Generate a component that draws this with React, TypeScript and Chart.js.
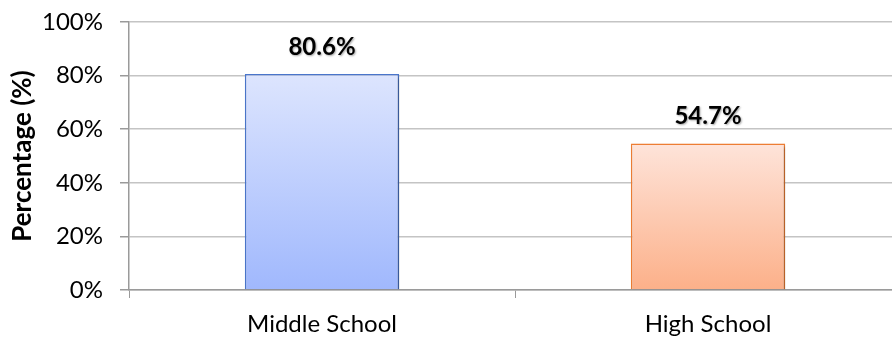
import React, { useEffect, useRef } from "react";
import { Chart, registerables } from "chart.js";

Chart.register(...registerables);

const categories = ["Middle School", "High School"];
const values = [80.6, 54.7];
const valueLabels = ["80.6%", "54.7%"];
const yTicks = [0, 20, 40, 60, 80, 100];
const yTitle = "Percentage (%)";

const topColors = ["#dde5fe", "#fee4da"];
const bottomColors = ["#a0b8fd", "#fcb089"];
const borderColors = ["#4a76cc", "#ee7e33"];

const FONT = "Lato, 'Noto Sans', sans-serif";

export default function App() {
  const ref = useRef<HTMLCanvasElement | null>(null);

  useEffect(() => {
    document.body.style.margin = "0";
    const canvas = ref.current;
    if (!canvas) return;

    const labelPlugin = {
      id: "valueLabels",
      afterDatasetsDraw(chart: any) {
        const ctx = chart.ctx;
        const meta = chart.getDatasetMeta(0);
        ctx.save();
        ctx.font = `bold 24px ${FONT}`;
        ctx.textAlign = "center";
        ctx.textBaseline = "middle";
        ctx.shadowColor = "rgba(0,0,0,0.35)";
        ctx.shadowOffsetX = 1;
        ctx.shadowOffsetY = 1;
        ctx.shadowBlur = 2;
        ctx.fillStyle = "#000";
        meta.data.forEach((bar: any, i: number) => {
          ctx.fillText(valueLabels[i], bar.x, bar.y - 27);
        });
        ctx.restore();
      },
    };

    const shadowPlugin = {
      id: "barShadow",
      beforeDatasetsDraw(chart: any) {
        const ctx = chart.ctx;
        ctx.save();
        ctx.shadowColor = "rgba(0,0,0,0.3)";
        ctx.shadowOffsetX = 2;
        ctx.shadowOffsetY = 2;
        ctx.shadowBlur = 3;
      },
      afterDatasetsDraw(chart: any) {
        chart.ctx.restore();
      },
    };

    const chart = new Chart(canvas, {
      type: "bar",
      data: {
        labels: categories,
        datasets: [
          {
            data: values,
            backgroundColor: (c: any) => {
              const ch = c.chart;
              const i = c.dataIndex ?? 0;
              const ys = ch.scales?.y;
              if (!ch.chartArea || !ys) return topColors[i];
              const top = ys.getPixelForValue(values[i]);
              const bottom = ys.getPixelForValue(0);
              const g = ch.ctx.createLinearGradient(0, top, 0, bottom);
              g.addColorStop(0, topColors[i]);
              g.addColorStop(1, bottomColors[i]);
              return g;
            },
            borderColor: borderColors,
            borderWidth: 1.5,
            categoryPercentage: 0.4,
            barPercentage: 1,
          },
        ],
      },
      options: {
        animation: false,
        responsive: false,
        maintainAspectRatio: false,
        layout: { padding: { top: 22, right: 9, left: 0, bottom: 0 } },
        plugins: {
          legend: { display: false },
          tooltip: { enabled: false },
        },
        scales: {
          x: {
            afterFit: (scale: any) => {
              scale.height = 47;
              scale.paddingLeft = 0;
              scale.paddingRight = 0;
            },
            grid: {
              display: true,
              drawOnChartArea: false,
              drawTicks: true,
              tickLength: 8,
              color: "#9a9a9a",
              offset: true,
            },
            border: { display: true, color: "#9a9a9a", width: 1.5 },
            ticks: {
              color: "#000",
              font: { family: FONT, size: 24 },
              padding: 12,
              maxRotation: 0,
            },
          },
          y: {
            min: 0,
            max: 100,
            afterBuildTicks: (scale: any) => {
              scale.ticks = yTicks.map((v) => ({ value: v }));
            },
            afterFit: (scale: any) => {
              scale.width = 129;
              scale.paddingTop = 0;
              scale.paddingBottom = 0;
            },
            grid: {
              color: "#c4c4c4",
              lineWidth: 1.5,
              tickLength: 9,
              tickColor: "#9a9a9a",
            },
            border: { display: true, color: "#9a9a9a", width: 1.5 },
            ticks: {
              color: "#000",
              font: { family: FONT, size: 24 },
              padding: 17,
              callback: (v: any) => `${v}%`,
            },
            title: {
              display: true,
              text: yTitle,
              color: "#000",
              font: { family: FONT, size: 26, weight: "bold" },
              padding: { top: 7, bottom: 0 },
            },
          },
        },
      },
      plugins: [shadowPlugin, labelPlugin],
    });

    return () => chart.destroy();
  }, []);

  return (
    <div style={{ width: 892, height: 337, overflow: "hidden", background: "#fff" }}>
      <canvas ref={ref} width={910} height={337} style={{ display: "block" }} />
    </div>
  );
}
